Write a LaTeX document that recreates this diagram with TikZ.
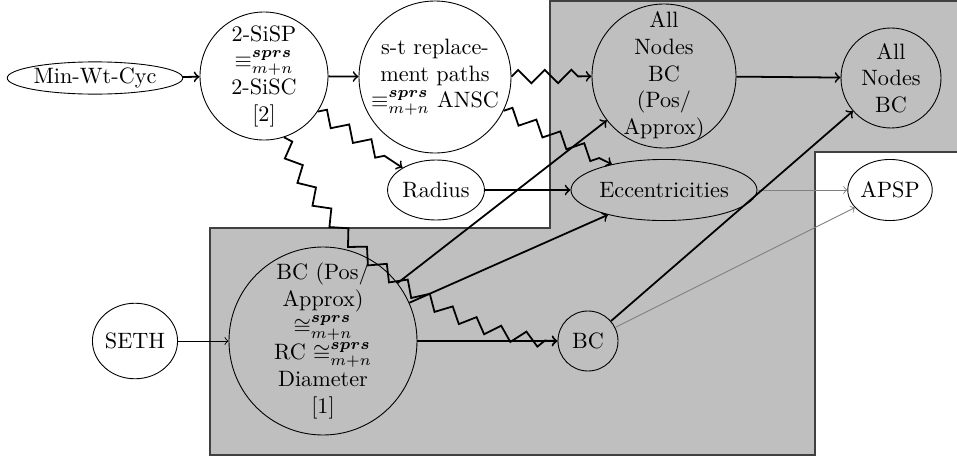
\documentclass[tikz,border=0pt]{standalone}
\usepackage{amsmath}
\usetikzlibrary{shapes.geometric,decorations.pathmorphing}
\begin{document}
\begin{tikzpicture}[x=0.45pt,y=-0.45pt,
  every node/.style={inner sep=0pt},
  circ/.style={circle,draw,inner sep=0pt},
  ell/.style={ellipse,draw,inner sep=0pt},
  ctext/.style={align=center},
  thk/.style={thick,->},
  zz/.style={thick,->,decorate,decoration={zigzag,amplitude=3pt,segment length=12pt,post length=4pt}},
  lite/.style={gray,->},
  region/.style={fill=black!25,draw=black!75,line width=0.5pt}]
\useasboundingbox (0,0) rectangle (957,458);
\draw[region] (210,228) -- (550,228) -- (550,1) -- (970,1) -- (970,152) -- (815,152) -- (815,455) -- (210,455) -- cycle;

\node[ell,minimum width=79pt,minimum height=14.5pt] (mwc) at (95,78) {Min-Wt-Cyc};
\node[circ,minimum size=57.6pt,label={[ctext]center:{2-SiSP\\$\equiv^{\boldsymbol{sprs}}_{m+n}$\\2-SiSC\\{[2]}}}] (sisp) at (264,76) {};
\node[circ,minimum size=68.4pt,label={[ctext]center:{s-t replace-\\ment paths\\$\equiv^{\boldsymbol{sprs}}_{m+n}$ ANSC}}] (st) at (435,77) {};
\node[circ,minimum size=64.8pt,label={[ctext]center:{All\\Nodes\\BC\\(Pos/\\Approx)}}] (anbcpa) at (664,76) {};
\node[circ,minimum size=45pt,label={[ctext]center:{All\\Nodes\\BC}}] (anbc) at (891,78) {};
\node[ell,minimum width=43.6pt,minimum height=27pt] (rad) at (436,190) {Radius};
\node[ell,minimum width=83.7pt,minimum height=27.5pt] (ecc) at (664,190) {Eccentricities};
\node[ell,minimum width=38pt,minimum height=27.5pt] (apsp) at (890,190) {APSP};
\node[ell,minimum width=38pt,minimum height=34pt] (seth) at (135,341) {SETH};
\node[circ,minimum size=84.6pt,label={[ctext]center:{BC (Pos/\\Approx)\\$\cong^{\boldsymbol{sprs}}_{m+n}$\\RC $\cong^{\boldsymbol{sprs}}_{m+n}$\\Diameter\\{[1]}}}] (bcpa) at (323,341) {};
\node[circ,minimum size=27pt] (bc) at (588,341) {BC};

\draw[thk] (mwc) -- (sisp);
\draw[thk] (sisp) -- (st);
\draw[zz] (st) -- (anbcpa);
\draw[zz] (st) -- (ecc);
\draw[zz] (sisp) -- (rad);
\draw[zz] (sisp) to[out=-72,in=180,looseness=0.8] (bc);
\draw[thk] (rad) -- (ecc);
\draw[thk] (anbcpa) -- (anbc);
\draw[lite] (ecc) -- (apsp);
\draw[lite] (bc) -- (apsp);
\draw[thk] (bc) -- (anbc);
\draw[thk] (bcpa) -- (anbcpa);
\draw[thk] (bcpa) -- (ecc);
\draw[thk] (bcpa) -- (bc);
\draw[->] (seth) -- (bcpa);
\end{tikzpicture}
\end{document}
